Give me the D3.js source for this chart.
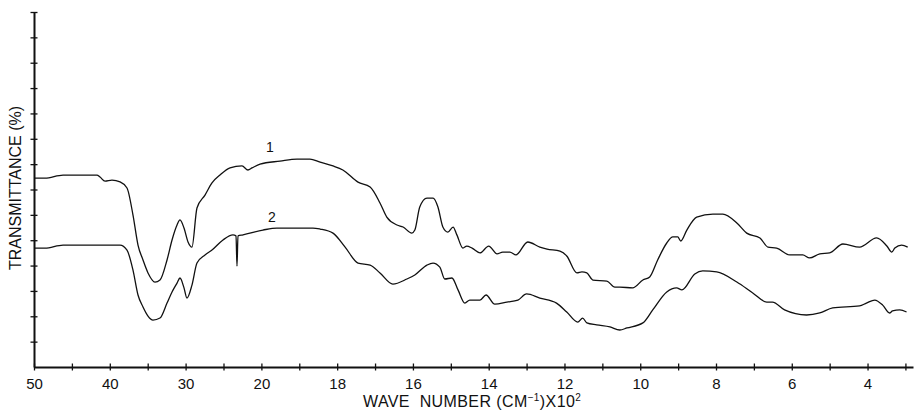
<!DOCTYPE html>
<html>
<head>
<meta charset="utf-8">
<script src="https://cdn.jsdelivr.net/npm/d3@7"></script>
<style>
  body { margin: 0; background: #fff; }
  svg { display: block; }
  text { font-family: "Liberation Sans", Arial, sans-serif; fill: #111; }
</style>
</head>
<body>
<svg id="canvas" width="915" height="411"></svg>
<script>
// wave number (x10^2 cm-1) and transmittance (arbitrary grid units)
let wave1 = [50.00, 48.55, 46.17, 43.93, 41.69, 41.29, 40.63, 39.71, 38.65, 37.73, 36.94, 36.28, 35.62, 34.96, 34.04, 33.38, 32.45, 31.79, 31.13, 30.74, 30.21, 29.68, 29.16, 28.50, 27.44, 26.52, 25.46, 24.14, 22.56, 21.77, 21.24, 20.18,
  19.51, 19.06, 18.72, 18.45, 18.11, 17.85, 17.45, 17.13, 16.87, 16.69, 16.42, 16.26, 16.03, 15.95, 15.82, 15.63, 15.47, 15.34, 15.21, 15.08, 14.94, 14.84, 14.68, 14.58, 14.44, 14.23, 14.00, 13.78, 13.63, 13.44, 13.28, 12.97, 12.65, 12.46, 12.12, 11.94, 11.67, 11.54, 11.41, 11.25, 10.88, 10.67, 10.54, 10.20,
  9.93, 9.75, 9.54, 9.30, 9.14, 9.01, 8.93, 8.77, 8.51, 8.08, 7.82, 7.45, 7.19, 6.84, 6.63, 6.40, 6.05, 5.71, 5.53, 5.26, 5.00, 4.65, 4.21, 3.76, 3.49, 3.36, 3.28, 3.10, 2.94]
let trans1 = [7.45, 7.45, 7.57, 7.57, 7.57, 7.49, 7.33, 7.37, 7.30, 7.06, 5.99, 4.81, 4.22, 3.71, 3.35, 3.43, 4.22, 5.01, 5.60, 5.80, 5.48, 4.93, 4.73, 6.27, 6.78, 7.26, 7.57, 7.85, 7.93, 7.77, 7.85, 8.00,
  8.12, 8.20, 8.20, 8.08, 7.93, 7.77, 7.29, 7.10, 6.47, 5.91, 5.60, 5.52, 5.28, 5.40, 6.31, 6.66, 6.66, 6.31, 5.52, 5.32, 5.52, 5.21, 4.69, 4.77, 4.69, 4.50, 4.77, 4.46, 4.53, 4.53, 4.42, 4.93, 4.73, 4.65, 4.57, 4.38, 3.71, 3.75, 3.71, 3.43, 3.39, 3.15, 3.15, 3.12,
  3.43, 3.55, 4.22, 4.89, 5.13, 5.13, 4.97, 5.40, 5.91, 6.03, 6.03, 5.68, 5.28, 5.09, 4.73, 4.69, 4.42, 4.42, 4.30, 4.46, 4.50, 4.85, 4.73, 5.09, 4.77, 4.53, 4.69, 4.81, 4.73]

let wave2 = [50.00, 48.55, 46.17, 43.93, 41.69, 38.65, 37.73, 36.94, 36.28, 35.62, 34.96, 34.30, 33.38, 32.45, 31.79, 31.13, 30.74, 30.21, 29.82, 29.16, 28.50, 27.44, 26.52, 25.07, 23.75, 23.35, 23.22, 23.09, 22.43,
  19.96, 19.59, 18.98, 18.64, 18.45, 18.11, 17.79, 17.45, 17.13, 16.87, 16.53, 16.16, 15.95, 15.63, 15.47, 15.29, 15.16, 14.97, 14.81, 14.63, 14.50, 14.23, 14.07, 13.84, 13.52, 13.23, 13.00, 12.65, 12.21, 11.94, 11.65, 11.52, 11.41, 11.15, 10.80, 10.54, 10.35,
  9.93, 9.67, 9.30, 9.04, 8.90, 8.56, 8.35, 7.98, 7.45, 7.03, 6.66, 6.51, 6.19, 5.61, 5.26, 4.92, 4.21, 4.03, 3.81, 3.60, 3.42, 3.34, 3.15, 2.97]
let trans2 = [4.69, 4.69, 4.81, 4.81, 4.81, 4.81, 4.61, 3.82, 2.84, 2.37, 2.01, 1.85, 1.93, 2.52, 2.96, 3.31, 3.51, 3.12, 2.72, 3.23, 4.10, 4.42, 4.61, 5.01, 5.21, 5.17, 3.98, 5.17, 5.21,
  5.40, 5.48, 5.48, 5.48, 5.44, 5.28, 4.73, 4.10, 4.02, 3.71, 3.27, 3.47, 3.63, 4.02, 4.10, 3.94, 3.47, 3.51, 3.04, 2.52, 2.64, 2.64, 2.84, 2.48, 2.56, 2.64, 2.88, 2.72, 2.52, 2.17, 1.77, 1.93, 1.74, 1.66, 1.58, 1.46, 1.54,
  1.74, 2.25, 2.96, 3.12, 3.04, 3.67, 3.79, 3.75, 3.35, 2.92, 2.56, 2.56, 2.25, 2.05, 2.13, 2.33, 2.41, 2.52, 2.64, 2.44, 2.13, 2.21, 2.25, 2.17]

let labelTicks = [50, 40, 30, 20, 18, 16, 14, 12, 10, 8, 6, 4]
let minorTicks = [45, 35, 25, 19, 17, 15, 13, 11, 9, 7, 5, 3]
let yTicks = [1, 2, 3, 4, 5, 6, 7, 8, 9, 10, 11, 12, 13, 14]

let canvas = d3.select('#canvas')

// the wave number axis changes scale at 2000 cm-1
let xScale = d3.scaleLinear().domain([50, 20, 2.8]).range([34, 261.4, 913])
let yScale = d3.scaleLinear().domain([0, 14]).range([367, 12])

// axes with small cross ticks
let xAxis = d3.axisBottom(xScale)
  .tickValues(labelTicks.concat(minorTicks))
  .tickFormat((d) => labelTicks.includes(d) ? d : '')
  .tickSizeOuter(0)
let xg = canvas.append('g').attr('transform', 'translate(0,367)').call(xAxis)
xg.select('.domain').attr('stroke', '#111').attr('stroke-width', 2)
xg.selectAll('.tick line').attr('y1', -3.5).attr('y2', 3.5).attr('stroke', '#111').attr('stroke-width', 1.3)
xg.selectAll('.tick text').attr('y', 22).attr('dy', 0).attr('font-size', 15)
  .style('font-family', '"Liberation Sans", Arial, sans-serif').attr('fill', '#111')

let yAxis = d3.axisLeft(yScale).tickValues(yTicks).tickFormat('').tickSizeOuter(0)
let yg = canvas.append('g').attr('transform', 'translate(34,0)').call(yAxis)
yg.select('.domain').attr('stroke', '#111').attr('stroke-width', 2)
yg.selectAll('.tick line').attr('x1', -3.5).attr('x2', 3.5).attr('stroke', '#111').attr('stroke-width', 1.3)

// spectra
let line = d3.line()
  .x((d) => xScale(d[0]))
  .y((d) => yScale(d[1]))
  .curve(d3.curveMonotoneX)

let series = [d3.zip(wave1, trans1), d3.zip(wave2, trans2)]
canvas.selectAll('path.spectrum')
  .data(series)
  .enter()
  .append('path')
  .attr('class', 'spectrum')
  .attr('d', line)
  .attr('fill', 'none')
  .attr('stroke', '#111')
  .attr('stroke-width', 1.3)

// curve numbers
canvas.append('text').attr('x', 270).attr('y', 152).attr('font-size', 14).attr('text-anchor', 'middle').text('1')
canvas.append('text').attr('x', 272).attr('y', 222).attr('font-size', 14).attr('text-anchor', 'middle').text('2')

// axis titles
let xt = canvas.append('text').attr('x', 363).attr('y', 407).attr('font-size', 16).attr('letter-spacing', 0.4)
xt.append('tspan').text('WAVE\u00a0\u00a0NUMBER (CM')
xt.append('tspan').attr('dy', -6).attr('font-size', 10).text('\u22121')
xt.append('tspan').attr('dy', 6).text(')X10')
xt.append('tspan').attr('dy', -6).attr('font-size', 10).text('2')

canvas.append('text')
  .attr('transform', 'translate(21,188) rotate(-90)')
  .attr('text-anchor', 'middle')
  .attr('font-size', 16)
  .text('TRANSMITTANCE (%)')
</script>
</body>
</html>
